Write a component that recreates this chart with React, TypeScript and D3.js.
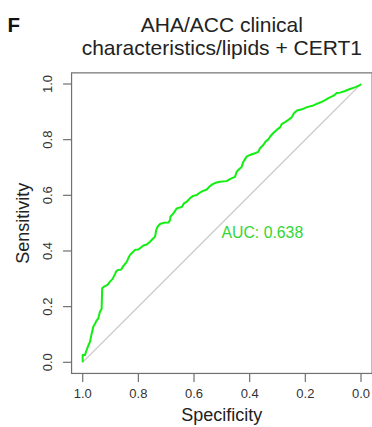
import React from "react";
import * as d3 from "d3";

const specificity = [
  1.0, 1.0, 0.992, 0.986, 0.98, 0.974, 0.968, 0.962, 0.956, 0.95, 0.944, 0.938, 0.932, 0.93, 0.923, 0.911,
  0.902, 0.893, 0.884, 0.879, 0.872, 0.862, 0.854, 0.842, 0.836, 0.83, 0.824, 0.812, 0.8, 0.794, 0.782,
  0.77, 0.758, 0.746, 0.74, 0.736, 0.731, 0.722, 0.71, 0.692, 0.686, 0.685, 0.674, 0.662, 0.644, 0.636,
  0.626, 0.614, 0.603, 0.59, 0.579, 0.567, 0.554, 0.543, 0.531, 0.519, 0.507, 0.483, 0.471, 0.453, 0.447,
  0.441, 0.429, 0.423, 0.411, 0.399, 0.381, 0.369, 0.363, 0.351, 0.343, 0.333, 0.325, 0.315, 0.303, 0.291,
  0.285, 0.273, 0.261, 0.249, 0.241, 0.23, 0.212, 0.194, 0.171, 0.153, 0.141, 0.129, 0.117, 0.1, 0.087,
  0.075, 0.057, 0.04, 0.022, 0.004, 0.0,
];
const sensitivity = [
  0.0, 0.026, 0.026, 0.044, 0.06, 0.073, 0.102, 0.128, 0.138, 0.15, 0.158, 0.182, 0.192, 0.266, 0.272, 0.278,
  0.29, 0.299, 0.317, 0.328, 0.332, 0.333, 0.346, 0.361, 0.374, 0.386, 0.392, 0.404, 0.405, 0.41, 0.42,
  0.423, 0.433, 0.446, 0.451, 0.475, 0.487, 0.497, 0.501, 0.502, 0.511, 0.523, 0.535, 0.553, 0.558, 0.571,
  0.577, 0.59, 0.598, 0.601, 0.61, 0.616, 0.621, 0.633, 0.641, 0.646, 0.649, 0.651, 0.658, 0.666, 0.684,
  0.691, 0.702, 0.72, 0.739, 0.745, 0.751, 0.756, 0.769, 0.781, 0.793, 0.801, 0.813, 0.824, 0.835, 0.844,
  0.856, 0.863, 0.871, 0.88, 0.895, 0.905, 0.909, 0.917, 0.923, 0.931, 0.936, 0.942, 0.949, 0.957, 0.968,
  0.969, 0.975, 0.982, 0.988, 0.996, 1.0,
];
const xTicks = [1.0, 0.8, 0.6, 0.4, 0.2, 0.0];
const yTicks = [0.0, 0.2, 0.4, 0.6, 0.8, 1.0];
const titleLines = ["AHA/ACC clinical", "characteristics/lipids + CERT1"];
const aucLabel = "AUC: 0.638";

export default function App() {
  const W = 372, H = 427;
  const x = d3.scaleLinear().domain([1, 0]).range([82.7, 361]);
  const y = d3.scaleLinear().domain([0, 1]).range([362.3, 84]);
  const pts: [number, number][] = specificity.map((s, i) => [s, sensitivity[i]]);
  const line = d3.line<[number, number]>().x((d) => x(d[0])).y((d) => y(d[1]));
  const left = x(1.04), right = x(-0.04), top = y(1.04), bottom = y(-0.04);
  const font = "'Liberation Sans', Arial, Helvetica, sans-serif";
  const axisCol = "#707070";
  const textCol = "#333";
  const cx = (left + right) / 2;
  return (
    <svg width={W} height={H} style={{ position: "absolute", left: 0, top: 0, background: "#fff" }} fontFamily={font}>
      <rect x={0} y={0} width={W} height={H} fill="#fff" />
      <text x={7.5} y={32} fontSize={20.5} fontWeight="bold" fill="#111">F</text>
      {titleLines.map((t, i) => (
        <text key={i} x={cx} y={32 + i * 22.5} fontSize={21} textAnchor="middle" fill="#222">{t}</text>
      ))}
      <line x1={x(0)} y1={y(1)} x2={x(1)} y2={y(0)} stroke="#cccccc" strokeWidth={1.3} />
      <path d={line(pts) || ""} fill="none" stroke="#11ee11" strokeWidth={2} strokeLinejoin="round" />
      <text x={221.5} y={237.5} fontSize={15.8} fill="#33d633">{aucLabel}</text>
      <rect x={left} y={top} width={right - left} height={bottom - top} fill="none" stroke={axisCol} strokeWidth={1.2} />
      {xTicks.map((t) => (
        <g key={"x" + t}>
          <line x1={x(t)} x2={x(t)} y1={bottom} y2={bottom + 8.5} stroke={axisCol} strokeWidth={1.2} />
          <text x={x(t)} y={398} fontSize={13} textAnchor="middle" fill={textCol}>{t.toFixed(1)}</text>
        </g>
      ))}
      {yTicks.map((t) => (
        <g key={"y" + t}>
          <line x1={left - 8.5} x2={left} y1={y(t)} y2={y(t)} stroke={axisCol} strokeWidth={1.2} />
          <text transform={`translate(52,${y(t)}) rotate(-90)`} fontSize={13} textAnchor="middle" fill={textCol}>{t.toFixed(1)}</text>
        </g>
      ))}
      <text x={cx} y={421} fontSize={18} textAnchor="middle" fill="#222">Specificity</text>
      <text transform={`translate(29,${(top + bottom) / 2}) rotate(-90)`} fontSize={18} textAnchor="middle" fill="#222">Sensitivity</text>
    </svg>
  );
}
